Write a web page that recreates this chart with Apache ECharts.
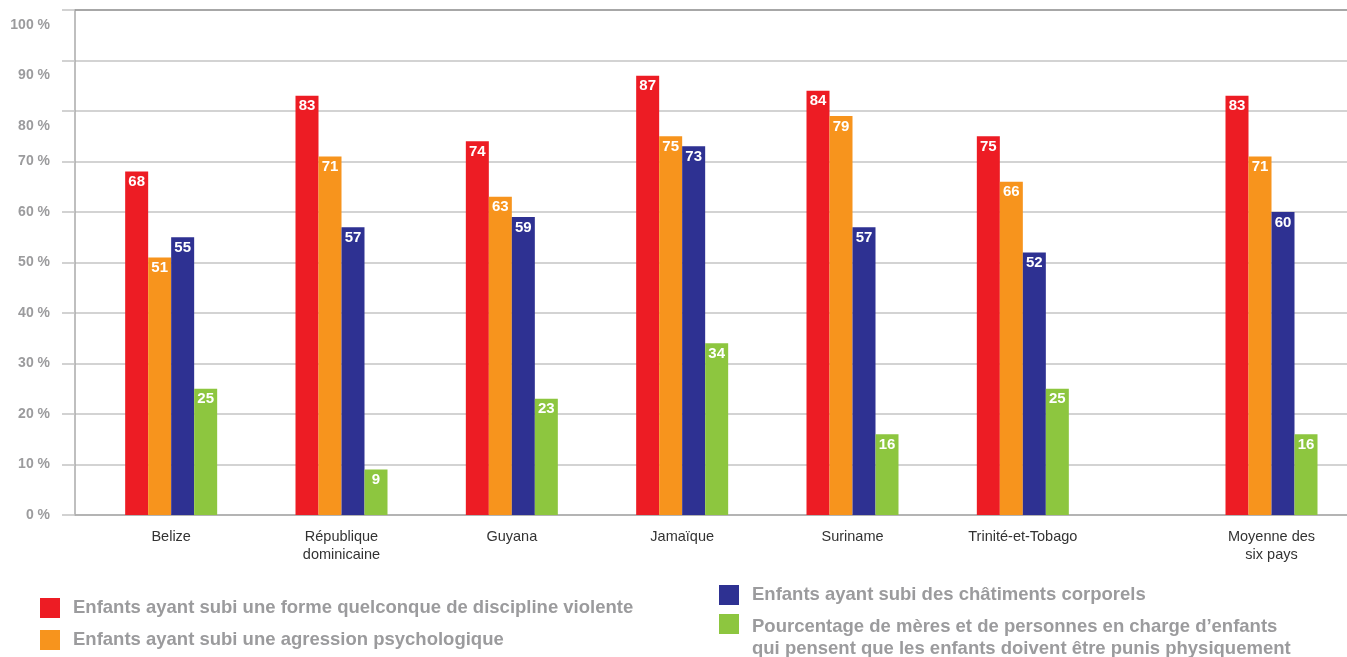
<!DOCTYPE html>
<html>
<head>
<meta charset="utf-8">
<script src="https://cdn.jsdelivr.net/npm/echarts@6/dist/echarts.min.js"></script>
<style>html,body{margin:0;padding:0;background:#fff;}#c{width:1347px;height:657px;}</style>
</head>
<body>
<div id="c"></div>
<script>
const countries = ['Belize', 'République\ndominicaine', 'Guyana', 'Jamaïque', 'Suriname', 'Trinité-et-Tobago'];
const averageCategory = ['Moyenne des\nsix pays'];
const seriesNames = [
  'Enfants ayant subi une forme quelconque de discipline violente',
  'Enfants ayant subi une agression psychologique',
  'Enfants ayant subi des châtiments corporels',
  'Pourcentage de mères et de personnes en charge d’enfants\nqui pensent que les enfants doivent être punis physiquement'
];
const violentDiscipline = [68, 83, 74, 87, 84, 75];
const psychAggression = [51, 71, 63, 75, 79, 66];
const physicalPunishment = [55, 57, 59, 73, 57, 52];
const mothersBelief = [25, 9, 23, 34, 16, 25];
const averageValues = [83, 71, 60, 16];
const yTicks = [0, 10, 20, 30, 40, 50, 60, 70, 80, 90, 100];

const colors = ['#ED1C24', '#F7941D', '#2E3192', '#8DC63F'];
const FONT = "'Liberation Sans', Arial, sans-serif";
const countrySeries = [violentDiscipline, psychAggression, physicalPunishment, mothersBelief];

const labelStyle = {
  show: true, position: 'insideTop', distance: 3,
  color: '#fff', fontWeight: 'bold', fontSize: 15, fontFamily: FONT
};

const series = [];
countrySeries.forEach((arr, i) => {
  series.push({
    name: seriesNames[i], type: 'bar', xAxisIndex: 1, yAxisIndex: 1,
    data: arr, barWidth: 23, barGap: '0%',
    itemStyle: { color: colors[i] }, label: labelStyle
  });
});
averageValues.forEach((v, i) => {
  series.push({
    name: seriesNames[i], type: 'bar', xAxisIndex: 2, yAxisIndex: 2,
    data: [v], barWidth: 23, barGap: '0%',
    itemStyle: { color: colors[i] }, label: labelStyle
  });
});

const GREY = '#9b9b9d';
const legendText = { color: GREY, fontWeight: 'bold', fontSize: 18.5, fontFamily: FONT, padding: [0, 0, 0, 8], lineHeight: 22 };
const legendPos = [[40, 597], [40, 629], [719, 584], [719, 614]];
const legends = seriesNames.map((n, i) => {
  const twoLine = i === 3;
  return {
    left: legendPos[i][0], top: legendPos[i][1], itemWidth: 20, itemHeight: twoLine ? 48 : 20,
    icon: twoLine ? 'path://M0,0H20V20H0Z M0,48L0,48' : 'rect',
    selectedMode: false, padding: 0, textStyle: legendText, data: [n]
  };
});

const chart = echarts.init(document.getElementById('c'), null, { renderer: 'canvas' });
chart.setOption({
  animation: false,
  backgroundColor: '#fff',
  grid: [
    { left: 75, right: 0, top: 10, height: 505 },
    { left: 86, width: 1022, top: 10, height: 505 },
    { left: 1200, width: 143, top: 10, height: 505 }
  ],
  xAxis: [
    { gridIndex: 0, type: 'category', data: [''], axisLine: { show: true, lineStyle: { color: '#aaaaaa', width: 1.5 } }, axisTick: { show: false }, axisLabel: { show: false } },
    { gridIndex: 1, type: 'category', data: countries, axisLine: { show: false }, axisTick: { show: false },
      axisLabel: { color: '#333', fontSize: 14.5, fontFamily: FONT, margin: 13, lineHeight: 18, interval: 0 } },
    { gridIndex: 2, type: 'category', data: averageCategory, axisLine: { show: false }, axisTick: { show: false },
      axisLabel: { color: '#333', fontSize: 14.5, fontFamily: FONT, margin: 13, lineHeight: 18, interval: 0 } },
    { gridIndex: 0, type: 'category', position: 'top', data: [''], axisLine: { show: true, lineStyle: { color: '#999999', width: 1.5 } }, axisTick: { show: false }, axisLabel: { show: false } }
  ],
  yAxis: [
    { gridIndex: 0, type: 'value', min: 0, max: 100, interval: 10,
      axisLine: { show: true, lineStyle: { color: '#aaaaaa', width: 1.5 } },
      axisTick: { show: true, length: 13, lineStyle: { color: '#c4c4c4', width: 1.5 } },
      splitLine: { show: true, lineStyle: { color: '#c4c4c4', width: 1.5 } },
      axisLabel: { color: GREY, fontWeight: 'bold', fontSize: 14, fontFamily: FONT, margin: 25,
        customValues: yTicks,
        formatter: v => (v >= 80 ? '{lo|' + v + ' %}' : v + ' %'),
        rich: { lo: { color: GREY, fontWeight: 'bold', fontSize: 14, fontFamily: FONT, padding: [30, 0, 0, 0] } } } },
    { gridIndex: 1, type: 'value', min: 0, max: 100, interval: 10, show: false },
    { gridIndex: 2, type: 'value', min: 0, max: 100, interval: 10, show: false }
  ],
  legend: legends,
  series: series
});
</script>
</body>
</html>
